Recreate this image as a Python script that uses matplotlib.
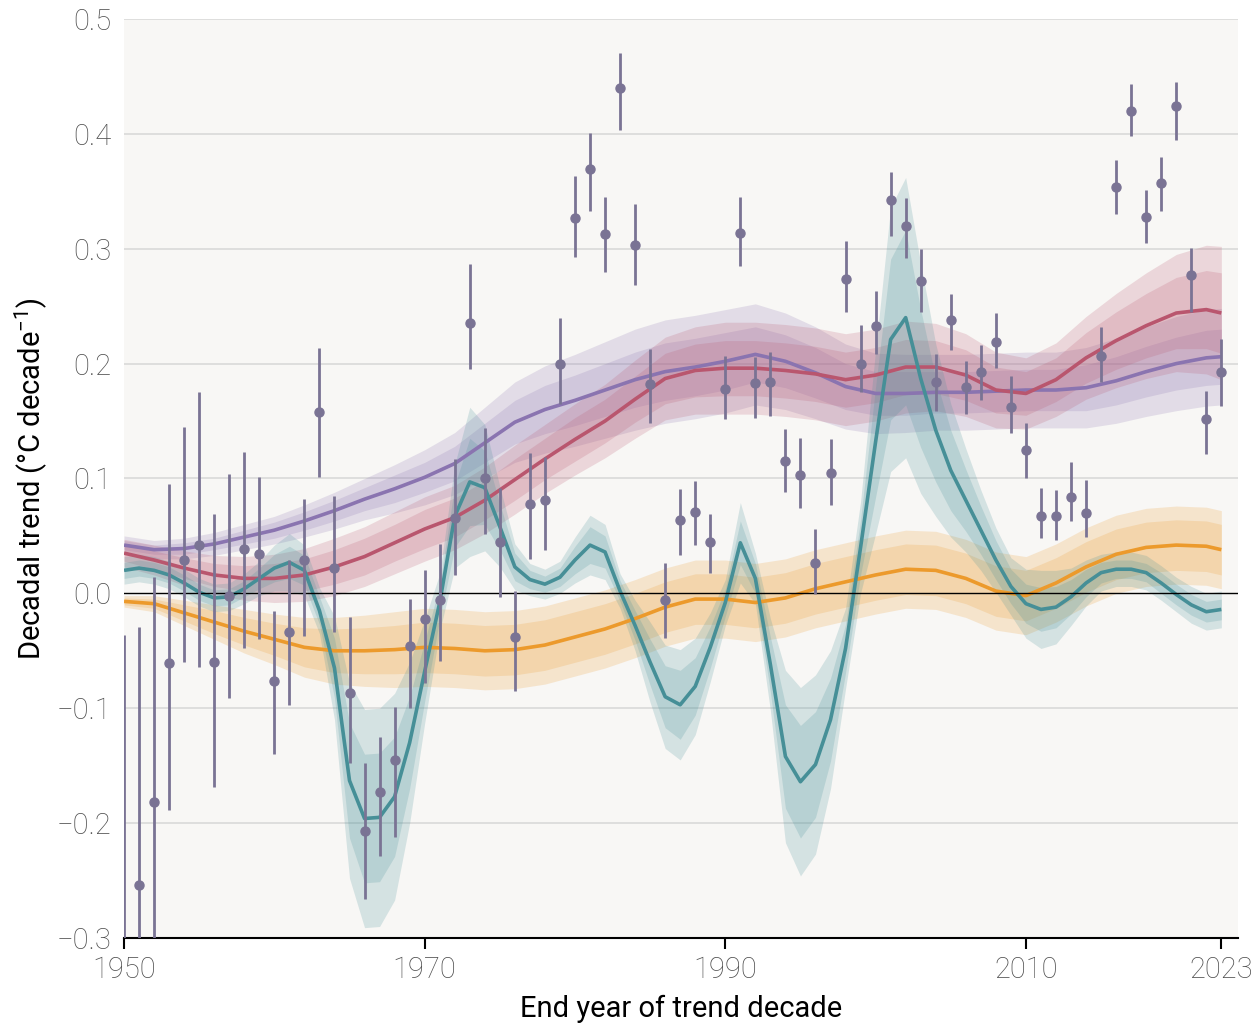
import numpy as np
import matplotlib
matplotlib.use("Agg")
import matplotlib.pyplot as plt

plt.rcParams['font.family'] = ['Roboto', 'DejaVu Sans']
plt.rcParams['mathtext.fontset'] = 'custom'
plt.rcParams['mathtext.rm'] = 'Roboto'
plt.rcParams['mathtext.default'] = 'regular'

# observed decadal trends, one per end year
obs_years = np.arange(1950, 2024)
obs_val = [-0.360, -0.254, -0.182, -0.061, 0.029, 0.042, -0.060, -0.002, 0.039, 0.034,
           -0.076, -0.034, 0.029, 0.158, 0.022, -0.087, -0.207, -0.173, -0.145, -0.046,
           -0.022, -0.006, 0.066, 0.235, 0.100, 0.045, -0.038, 0.078, 0.081, 0.200,
           0.327, 0.369, 0.313, 0.440, 0.303, 0.182, -0.006, 0.064, 0.071, 0.045,
           0.178, 0.314, 0.183, 0.184, 0.115, 0.103, 0.026, 0.105, 0.274, 0.200,
           0.233, 0.342, 0.320, 0.272, 0.184, 0.238, 0.180, 0.193, 0.219, 0.162,
           0.125, 0.067, 0.067, 0.084, 0.070, 0.207, 0.354, 0.420, 0.328, 0.357,
           0.424, 0.277, 0.152, 0.193]
obs_hi = [-0.036, -0.029, 0.014, 0.095, 0.145, 0.175, 0.069, 0.104, 0.123, 0.101,
          -0.015, 0.029, 0.082, 0.214, 0.085, -0.021, -0.148, -0.125, -0.099, -0.005,
          0.020, 0.043, 0.117, 0.287, 0.144, 0.092, 0.002, 0.122, 0.119, 0.240,
          0.363, 0.401, 0.345, 0.470, 0.339, 0.213, 0.026, 0.091, 0.098, 0.069,
          0.207, 0.345, 0.206, 0.210, 0.143, 0.135, 0.056, 0.134, 0.307, 0.234,
          0.263, 0.367, 0.344, 0.300, 0.208, 0.261, 0.202, 0.216, 0.244, 0.189,
          0.148, 0.092, 0.090, 0.114, 0.099, 0.232, 0.377, 0.443, 0.351, 0.380,
          0.445, 0.301, 0.176, 0.221]
obs_lo = [-0.700, -0.480, -0.380, -0.189, -0.060, -0.064, -0.169, -0.091, -0.048, -0.040,
          -0.140, -0.097, -0.037, 0.101, -0.034, -0.148, -0.266, -0.229, -0.212, -0.100,
          -0.078, -0.059, 0.016, 0.195, 0.052, -0.003, -0.085, 0.030, 0.038, 0.165,
          0.293, 0.333, 0.280, 0.403, 0.268, 0.148, -0.039, 0.033, 0.042, 0.018,
          0.152, 0.285, 0.153, 0.154, 0.088, 0.074, -0.001, 0.077, 0.245, 0.175,
          0.208, 0.311, 0.292, 0.245, 0.159, 0.212, 0.156, 0.168, 0.196, 0.140,
          0.100, 0.048, 0.046, 0.063, 0.049, 0.184, 0.330, 0.398, 0.305, 0.333,
          0.395, 0.245, 0.121, 0.163]

# smooth model series (every second year)
grid_years = list(range(1950, 2023, 2)) + [2023]
purple = [0.042, 0.038, 0.039, 0.043, 0.049, 0.055, 0.063, 0.072, 0.082, 0.091,
          0.101, 0.113, 0.131, 0.149, 0.160, 0.168, 0.177, 0.186, 0.193, 0.197,
          0.202, 0.208, 0.202, 0.192, 0.180, 0.174, 0.174, 0.175, 0.175, 0.176,
          0.177, 0.177, 0.179, 0.185, 0.193, 0.200, 0.205, 0.206]
purple_outer = [0.008, 0.008, 0.009, 0.010, 0.011, 0.012, 0.014, 0.016, 0.018, 0.021,
                0.024, 0.027, 0.031, 0.035, 0.038, 0.040, 0.042, 0.044, 0.045, 0.045,
                0.045, 0.044, 0.042, 0.040, 0.037, 0.035, 0.034, 0.033, 0.033, 0.033,
                0.033, 0.033, 0.035, 0.037, 0.039, 0.041, 0.042, 0.042]
purple_inner = [0.004, 0.004, 0.005, 0.005, 0.006, 0.007, 0.008, 0.009, 0.010, 0.012,
                0.013, 0.015, 0.017, 0.019, 0.021, 0.022, 0.023, 0.024, 0.025, 0.025,
                0.025, 0.024, 0.023, 0.022, 0.020, 0.019, 0.019, 0.018, 0.018, 0.018,
                0.018, 0.018, 0.020, 0.021, 0.022, 0.023, 0.024, 0.024]
red = [0.035, 0.029, 0.022, 0.016, 0.013, 0.013, 0.016, 0.023, 0.032, 0.044,
       0.056, 0.066, 0.081, 0.099, 0.117, 0.134, 0.150, 0.169, 0.187, 0.194,
       0.196, 0.196, 0.194, 0.191, 0.186, 0.190, 0.197, 0.197, 0.190, 0.177,
       0.174, 0.186, 0.205, 0.220, 0.233, 0.244, 0.247, 0.244]
red_outer = [0.012, 0.013, 0.015, 0.017, 0.019, 0.021, 0.023, 0.025, 0.026, 0.027,
             0.028, 0.028, 0.029, 0.030, 0.030, 0.031, 0.032, 0.034, 0.036, 0.038,
             0.040, 0.040, 0.040, 0.040, 0.040, 0.040, 0.040, 0.038, 0.036, 0.033,
             0.031, 0.032, 0.036, 0.041, 0.046, 0.051, 0.056, 0.058]
red_inner = [0.007, 0.008, 0.009, 0.010, 0.011, 0.013, 0.014, 0.015, 0.016, 0.016,
             0.017, 0.017, 0.017, 0.018, 0.018, 0.019, 0.019, 0.020, 0.022, 0.023,
             0.024, 0.024, 0.024, 0.024, 0.024, 0.024, 0.024, 0.023, 0.022, 0.020,
             0.019, 0.019, 0.022, 0.025, 0.028, 0.031, 0.034, 0.035]
orange = [-0.007, -0.009, -0.017, -0.025, -0.033, -0.040, -0.047, -0.050, -0.050, -0.049,
          -0.047, -0.048, -0.050, -0.049, -0.045, -0.038, -0.031, -0.022, -0.012, -0.005,
          -0.005, -0.008, -0.004, 0.004, 0.010, 0.016, 0.021, 0.020, 0.013, 0.002,
          -0.002, 0.009, 0.023, 0.034, 0.040, 0.042, 0.041, 0.038]
orange_outer = [0.005, 0.007, 0.011, 0.015, 0.019, 0.022, 0.026, 0.029, 0.031, 0.033,
                0.034, 0.034, 0.034, 0.034, 0.034, 0.034, 0.034, 0.034, 0.034, 0.034,
                0.034, 0.034, 0.034, 0.034, 0.034, 0.034, 0.034, 0.034, 0.034, 0.034,
                0.034, 0.034, 0.034, 0.034, 0.034, 0.034, 0.034, 0.034]
orange_inner = [0.003, 0.004, 0.007, 0.010, 0.012, 0.014, 0.017, 0.019, 0.020, 0.021,
                0.022, 0.022, 0.022, 0.022, 0.022, 0.022, 0.022, 0.022, 0.022, 0.022,
                0.022, 0.022, 0.022, 0.022, 0.022, 0.022, 0.022, 0.022, 0.022, 0.022,
                0.022, 0.022, 0.022, 0.022, 0.022, 0.022, 0.022, 0.022]

# teal series, yearly
teal = [0.020, 0.022, 0.020, 0.016, 0.009, 0.001, -0.004, -0.003, 0.004, 0.013,
        0.022, 0.027, 0.020, -0.015, -0.065, -0.163, -0.196, -0.195, -0.177, -0.130,
        -0.068, -0.008, 0.067, 0.097, 0.092, 0.058, 0.023, 0.012, 0.008, 0.014,
        0.029, 0.042, 0.036, 0.002, -0.028, -0.060, -0.090, -0.097, -0.081, -0.047,
        -0.008, 0.044, 0.013, -0.062, -0.142, -0.164, -0.149, -0.110, -0.048, 0.040,
        0.132, 0.221, 0.240, 0.187, 0.142, 0.107, 0.081, 0.055, 0.029, 0.006,
        -0.009, -0.014, -0.012, -0.003, 0.009, 0.018, 0.021, 0.021, 0.018, 0.009,
        -0.001, -0.010, -0.016, -0.014]
teal_outer = [0.012, 0.012, 0.012, 0.012, 0.012, 0.012, 0.012, 0.012, 0.013, 0.015,
              0.020, 0.025, 0.022, 0.020, 0.045, 0.085, 0.095, 0.095, 0.090, 0.070,
              0.045, 0.025, 0.045, 0.065, 0.055, 0.035, 0.020, 0.014, 0.013, 0.014,
              0.020, 0.026, 0.024, 0.015, 0.022, 0.035, 0.045, 0.048, 0.042, 0.030,
              0.020, 0.035, 0.022, 0.040, 0.075, 0.082, 0.078, 0.060, 0.035, 0.040,
              0.080, 0.115, 0.122, 0.100, 0.075, 0.058, 0.045, 0.035, 0.028, 0.025,
              0.030, 0.034, 0.032, 0.025, 0.020, 0.016, 0.015, 0.015, 0.015, 0.015,
              0.015, 0.016, 0.016, 0.016]
teal_inner = [0.007, 0.007, 0.007, 0.007, 0.007, 0.007, 0.007, 0.007, 0.007, 0.009,
              0.012, 0.014, 0.013, 0.012, 0.026, 0.050, 0.056, 0.056, 0.052, 0.040,
              0.026, 0.015, 0.027, 0.038, 0.032, 0.020, 0.012, 0.008, 0.007, 0.008,
              0.012, 0.016, 0.014, 0.009, 0.013, 0.020, 0.027, 0.030, 0.025, 0.018,
              0.012, 0.019, 0.013, 0.024, 0.045, 0.049, 0.046, 0.036, 0.021, 0.024,
              0.048, 0.070, 0.076, 0.060, 0.045, 0.035, 0.027, 0.021, 0.017, 0.015,
              0.017, 0.019, 0.018, 0.015, 0.012, 0.009, 0.008, 0.008, 0.008, 0.009,
              0.009, 0.009, 0.009, 0.009]

c_purple = '#8a74b0'
c_red = '#b9566e'
c_orange = '#ec9a2c'
c_teal = '#468f97'
c_obs = '#7a7394'

fig = plt.figure(figsize=(12.58, 10.24), dpi=100)
ax = fig.add_axes([0.0986, 0.084, 0.8854, 0.8975])
ax.set_facecolor('#f8f7f5')

for yv in np.arange(-0.3, 0.51, 0.1):
    if abs(yv) > 1e-9:
        ax.axhline(yv, color='#d9d9d9', lw=1.2, zorder=0)
ax.axhline(0, color='black', lw=1.0, zorder=6)


def draw(x, y, inner, outer, color):
    x = np.asarray(x)
    y = np.asarray(y)
    inner = np.asarray(inner)
    outer = np.asarray(outer)
    ax.fill_between(x, y - outer, y + outer, color=color, alpha=0.2, lw=0, zorder=2)
    ax.fill_between(x, y - inner, y + inner, color=color, alpha=0.2, lw=0, zorder=2)
    ax.plot(x, y, color=color, lw=2.6, zorder=3, solid_capstyle='butt')


draw(grid_years, purple, purple_inner, purple_outer, c_purple)
draw(grid_years, red, red_inner, red_outer, c_red)
draw(grid_years, orange, orange_inner, orange_outer, c_orange)
draw(obs_years, teal, teal_inner, teal_outer, c_teal)

obs_val = np.array(obs_val)
yerr = [obs_val - np.array(obs_lo), np.array(obs_hi) - obs_val]
ax.errorbar(obs_years, obs_val, yerr=yerr, fmt='o', color=c_obs, ms=6.5,
            elinewidth=2.0, capsize=0, zorder=8)

ax.set_xlim(1950, 2024.1)
ax.set_ylim(-0.3, 0.5)
ax.set_xticks([1950, 1970, 1990, 2010, 2023])
ax.set_yticks(np.round(np.arange(-0.3, 0.51, 0.1), 1))

for s in ('top', 'right', 'left'):
    ax.spines[s].set_visible(False)
ax.spines['bottom'].set_color('black')
ax.spines['bottom'].set_linewidth(1.5)
ax.spines['bottom'].set_zorder(7)

ax.tick_params(axis='y', length=0, pad=9, labelsize=21, labelcolor='#4d4d4d')
ax.tick_params(axis='x', length=8, width=1.5, direction='out', pad=5,
               labelsize=21, labelcolor='#4d4d4d')
for lab in ax.get_xticklabels() + ax.get_yticklabels():
    lab.set_fontweight('light')

ax.set_xlabel('End year of trend decade', fontsize=21, labelpad=8)
ax.set_ylabel('Decadal trend (°C decade$^{-1}$)', fontsize=21, labelpad=5)

fig.savefig('out.png', dpi=100, facecolor='white')
